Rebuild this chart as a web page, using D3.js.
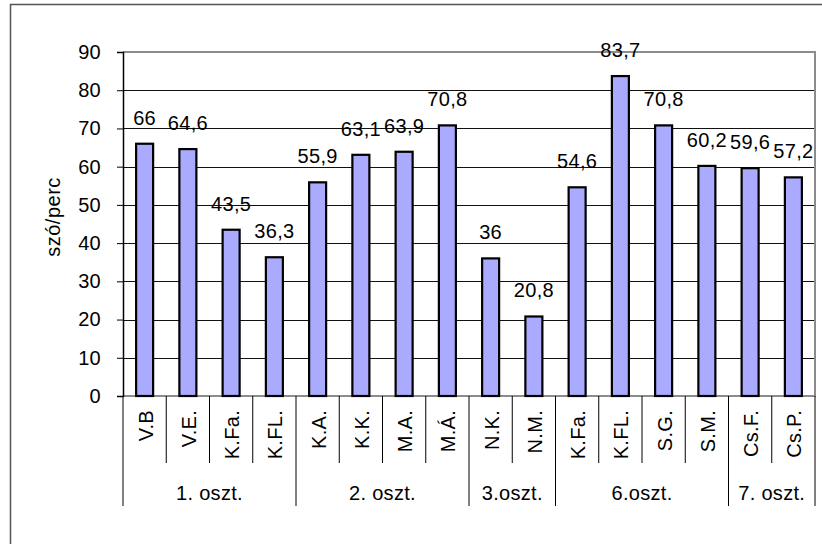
<!DOCTYPE html>
<html>
<head>
<meta charset="utf-8">
<script src="https://cdn.jsdelivr.net/npm/d3@7"></script>
<style>
  body { margin: 0; background: #fff; overflow: hidden; }
  svg { display: block; }
  text { font-family: "Liberation Sans", Arial, sans-serif; fill: #000; }
</style>
</head>
<body>
<div id="chart"></div>
<script>
const names = ['V.B', 'V.E.', 'K.Fa.', 'K.FL.', 'K.A.', 'K.K.', 'M.A.', 'M.Á.', 'N.K.', 'N.M.', 'K.Fa.', 'K.FL.', 'S.G.', 'S.M.', 'Cs.F.', 'Cs.P.'];
const values = [66, 64.6, 43.5, 36.3, 55.9, 63.1, 63.9, 70.8, 36, 20.8, 54.6, 83.7, 70.8, 60.2, 59.6, 57.2];
const groups = ['1. oszt.', '2. oszt.', '3.oszt.', '6.oszt.', '7. oszt.'];
const groupSizes = [4, 4, 2, 4, 2];
const yTicks = [0, 10, 20, 30, 40, 50, 60, 70, 80, 90];

const w = 822;
const h = 544;
const margin = { top: 52, right: 7, bottom: 148, left: 123 };
const x0 = margin.left, x1 = w - margin.right;
const y0 = h - margin.bottom, y1 = margin.top;
const fs = 20;

const svg = d3.select('#chart')
  .append('svg')
  .attr('width', w)
  .attr('height', h)

// outer chart frame (right and bottom edges fall off the picture)
svg.append('rect')
  .attr('x', 10.5).attr('y', 4.5)
  .attr('width', 850).attr('height', 580)
  .attr('fill', 'none').attr('stroke', '#555').attr('stroke-width', 1.5)

const xScale = d3.scaleBand()
  .domain(d3.range(names.length))
  .range([x0, x1])

const yScale = d3.scaleLinear()
  .domain([0, 90])
  .range([y0, y1])

// gridlines
svg.append('g')
  .selectAll('line')
  .data(yTicks.filter(t => t > 0 && t < 90))
  .enter()
  .append('line')
  .attr('x1', x0).attr('x2', x1)
  .attr('y1', d => Math.round(yScale(d)) + 0.5)
  .attr('y2', d => Math.round(yScale(d)) + 0.5)
  .attr('stroke', '#111').attr('stroke-width', 1)

// plot area border (top, right, bottom) in gray
svg.append('path')
  .attr('d', `M${x0},${y1}H${x1}V${y0}H${x0}`)
  .attr('fill', 'none').attr('stroke', '#8c8c8c').attr('stroke-width', 2)

const barW = 17;
svg.selectAll('rect.bar')
  .data(values)
  .enter()
  .append('rect')
  .attr('class', 'bar')
  .attr('x', (d, i) => xScale(i) + xScale.bandwidth() / 2 - barW / 2)
  .attr('y', d => yScale(d))
  .attr('width', barW)
  .attr('height', d => y0 - yScale(d))
  .attr('fill', '#aaaaff')
  .attr('stroke', '#000')
  .attr('stroke-width', 2.2)

// value labels
svg.selectAll('text.val')
  .data(values)
  .enter()
  .append('text')
  .attr('class', 'val')
  .attr('x', (d, i) => xScale(i) + xScale.bandwidth() / 2)
  .attr('y', d => yScale(d) - 19)
  .attr('text-anchor', 'middle')
  .attr('font-size', fs)
  .attr('letter-spacing', 0.3)
  .text(d => String(d).replace('.', ','))

// y axis
const yAxis = d3.axisLeft(yScale)
  .tickValues(yTicks)
  .tickSize(6)
  .tickPadding(16)
  .tickFormat(d3.format('d'))

const gy = svg.append('g')
  .attr('transform', 'translate(' + x0 + ',0)')
  .call(yAxis)
gy.select('.domain').attr('stroke', '#000').attr('stroke-width', 1.5)
gy.selectAll('.tick line').attr('stroke', '#000')
gy.selectAll('.tick text')
  .attr('font-size', fs)
  .attr('letter-spacing', 0.3)
  .attr('font-family', '"Liberation Sans", Arial, sans-serif')
  .attr('fill', '#000')

svg.append('text')
  .attr('transform', 'translate(53,217) rotate(-90)')
  .attr('text-anchor', 'middle')
  .attr('dy', '0.35em')
  .attr('font-size', 20)
  .attr('letter-spacing', 0.5)
  .text('szó/perc')

// category separators and labels
const catBottom = 463;
const grpBottom = 506;
const starts = [];
let acc = 0;
groupSizes.forEach(s => { starts.push(acc); acc += s; });

svg.selectAll('line.cat')
  .data(d3.range(names.length + 1))
  .enter()
  .append('line')
  .attr('class', 'cat')
  .attr('x1', i => i < names.length ? xScale(i) : x1)
  .attr('x2', i => i < names.length ? xScale(i) : x1)
  .attr('y1', y0)
  .attr('y2', i => (i === names.length || starts.includes(i)) ? grpBottom : catBottom)
  .attr('stroke', '#000').attr('stroke-width', 1)

svg.selectAll('text.cat')
  .data(names)
  .enter()
  .append('text')
  .attr('class', 'cat')
  .attr('transform', (d, i) => `translate(${xScale(i) + xScale.bandwidth() / 2 + 1},${y0 + 14}) rotate(-90)`)
  .attr('text-anchor', 'end')
  .attr('dy', '0.35em')
  .attr('font-size', fs)
  .attr('letter-spacing', 0.3)
  .text(d => d)

svg.selectAll('text.grp')
  .data(groups)
  .enter()
  .append('text')
  .attr('class', 'grp')
  .attr('x', (d, i) => {
    const a = xScale(starts[i]);
    const b = starts[i] + groupSizes[i] < names.length ? xScale(starts[i] + groupSizes[i]) : x1;
    return (a + b) / 2;
  })
  .attr('y', 500)
  .attr('text-anchor', 'middle')
  .attr('font-size', fs)
  .attr('letter-spacing', 0.3)
  .text(d => d)
</script>
</body>
</html>
